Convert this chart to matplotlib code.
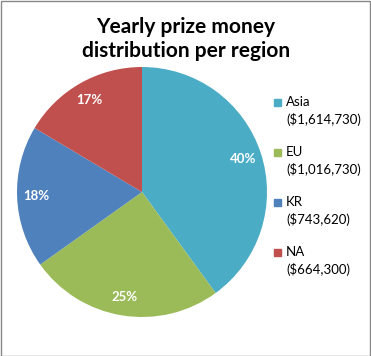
import matplotlib.pyplot as plt
from matplotlib.patches import Rectangle

regions = ["Asia", "EU", "KR", "NA"]
prize = [1614730, 1016730, 743620, 664300]
shown_pct = [40, 25, 18, 17]
colors = ["#4BACC6", "#9BBB59", "#4F81BD", "#C0504D"]

plt.rcParams['font.family'] = ['Lato', 'DejaVu Sans']

fig = plt.figure(figsize=(3.71, 3.56), dpi=100)
W, H = 371.0, 356.0

# pie centre (142,192) px, radius ~125 px
ax = fig.add_axes([(142 - 125) / W, 1 - (192 + 125) / H, 250 / W, 250 / H])
wedges, texts, autotexts = ax.pie(prize, colors=colors, startangle=90, counterclock=False,
                                  autopct='%1.0f%%', pctdistance=0.85, radius=1.0,
                                  wedgeprops=dict(linewidth=0))
for t, p in zip(autotexts, shown_pct):
    t.set_text("%d%%" % p)
    t.set_color("white")
    t.set_fontweight("bold")
    t.set_fontsize(9.5)
ax.set_xlim(-1, 1)
ax.set_ylim(-1, 1)
ax.set_aspect('equal')

fig.text(186 / W, 1 - 33 / H, "Yearly prize money", ha='center', va='baseline',
         fontsize=15, fontweight='bold')
fig.text(186 / W, 1 - 57 / H, "distribution per region", ha='center', va='baseline',
         fontsize=15, fontweight='bold')

# legend
for i in range(len(regions)):
    ytop = 102 + 50 * i
    fig.patches.append(Rectangle((274 / W, 1 - (ytop + 3.5) / H), 7 / W, 7 / H,
                                 transform=fig.transFigure, color=colors[i]))
    fig.text(286 / W, 1 - ytop / H, regions[i], ha='left', va='center', fontsize=9.5)
    fig.text(286 / W, 1 - (ytop + 18) / H, "($" + format(prize[i], ",") + ")",
             ha='left', va='center', fontsize=9.5)

fig.patches.append(Rectangle((0.5 / W, 0.5 / H), 1 - 1.5 / W, 1 - 1.5 / H,
                             transform=fig.transFigure, fill=False,
                             edgecolor='#888888', linewidth=1))

fig.savefig("out.png", dpi=100)
